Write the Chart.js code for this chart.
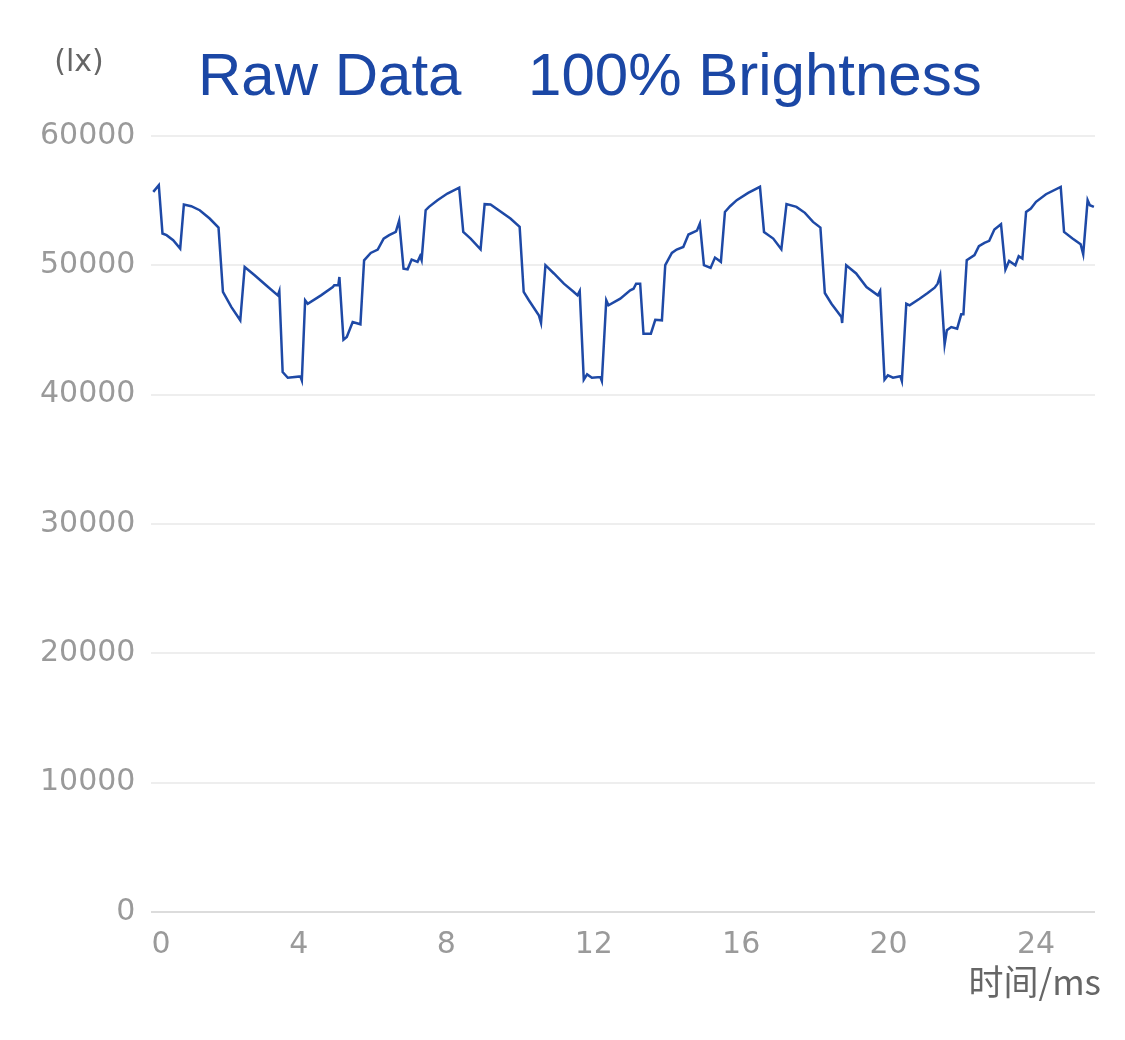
<!DOCTYPE html>
<html>
<head>
<meta charset="utf-8">
<script src="https://cdn.jsdelivr.net/npm/chart.js@4.4.1/dist/chart.umd.min.js"></script>
<style>
    body { margin: 0; background: #ffffff; }
    #wrap { width: 1125px; height: 1040px; }
</style>
</head>
<body>
<div id="wrap"><canvas id="myChart" width="1125" height="1040"></canvas></div>
<script>
// time in ms
let timeMs = [
    0.05, 0.2, 0.3, 0.41, 0.59, 0.78, 0.88, 1.08, 1.31, 1.58, 1.82, 1.94, 2.17, 2.41, 2.53, 2.8,
    3.11, 3.43, 3.47, 3.56, 3.7, 4.04, 4.08, 4.17, 4.24, 4.6, 4.92, 4.96, 5.07, 5.1, 5.21, 5.3,
    5.46, 5.67, 5.77, 5.95, 6.14, 6.3, 6.45, 6.63, 6.72, 6.84, 6.95, 7.06, 7.22, 7.29, 7.33, 7.44,
    7.53, 7.76, 8.03, 8.35, 8.46, 8.66, 8.93, 9.04, 9.2, 9.74, 9.99, 10.1, 10.24, 10.51, 10.57, 10.69,
    10.92, 11.19, 11.46, 11.56, 11.62, 11.73, 11.82, 11.95, 12.18, 12.22, 12.34, 12.4, 12.72, 12.99, 13.08, 13.15,
    13.26, 13.35, 13.55, 13.67, 13.85, 13.94, 14.12, 14.25, 14.43, 14.57, 14.8, 14.88, 14.99, 15.17, 15.29, 15.45,
    15.56, 15.7, 15.88, 16.19, 16.51, 16.62, 16.87, 17.09, 17.23, 17.5, 17.73, 17.95, 18.15, 18.27, 18.45, 18.72,
    18.74, 18.85, 19.12, 19.4, 19.71, 19.77, 19.89, 19.98, 20.12, 20.32, 20.36, 20.48, 20.57, 20.84, 21.06, 21.25,
    21.33, 21.4, 21.52, 21.58, 21.7, 21.86, 21.97, 22.03, 22.12, 22.33, 22.45, 22.6, 22.73, 22.87, 23.05, 23.17,
    23.27, 23.44, 23.53, 23.63, 23.73, 23.86, 24.0, 24.27, 24.67, 24.76, 24.99, 25.21, 25.28, 25.4, 25.46, 25.57
];
// illuminance in lx
let lux = [
    55680, 56200, 52460, 52330, 51940, 51300, 54700, 54570, 54260, 53620, 52920, 47940, 46770, 45750, 49870, 49230,
    48460, 47680, 48010, 41750, 41310, 41410, 41100, 47300, 47030, 47680, 48320, 48460, 48460, 49100, 44250, 44460,
    45620, 45440, 50390, 50960, 51220, 52070, 52330, 52580, 53440, 49740, 49690, 50450, 50270, 50710, 50400, 54260,
    54520, 55040, 55550, 56010, 52580, 52070, 51240, 54730, 54700, 53620, 52970, 47940, 47300, 46140, 45540, 50010,
    49370, 48580, 47940, 47680, 48010, 41160, 41570, 41310, 41360, 41060, 47300, 46910, 47420, 48070, 48190, 48580,
    48580, 44710, 44710, 45790, 45750, 50010, 50960, 51220, 51420, 52380, 52680, 53230, 50010, 49800, 50600, 50270,
    54130, 54570, 55040, 55600, 56070, 52580, 52070, 51240, 54730, 54520, 54060, 53360, 52920, 47860, 47030, 46000,
    45540, 50010, 49370, 48320, 47680, 48010, 41160, 41490, 41310, 41420, 41060, 47030, 46910, 47420, 47860, 48270,
    48580, 49230, 43890, 44980, 45230, 45100, 46210, 46210, 50400, 50790, 51480, 51740, 51890, 52770, 53180, 49670,
    50340, 50010, 50710, 50520, 54130, 54390, 54910, 55500, 56070, 52580, 52070, 51630, 50860, 55040, 54650, 54520
];

let titleText = "Raw Data    100% Brightness";
let yUnit = "(lx)";
let xUnit = "时间/ms";

let points = timeMs.map((t, i) => {
    return { x: t, y: lux[i] };
});

// draws the title and the two unit labels
const textPlugin = {
    id: "texts",
    afterDraw(chart) {
        const ctx = chart.ctx;
        ctx.save();
        ctx.fillStyle = "#1b47a5";
        ctx.font = "60px 'Liberation Sans', Arial, sans-serif";
        ctx.textAlign = "left";
        ctx.textBaseline = "alphabetic";
        ctx.fillText(titleText, 198, 95);

        ctx.fillStyle = "#666666";
        ctx.font = "30px 'DejaVu Sans', sans-serif";
        ctx.textAlign = "center";
        ctx.textBaseline = "middle";
        ctx.fillText(yUnit, 79, 63);

        ctx.font = "35px 'Noto Sans CJK SC', 'DejaVu Sans', sans-serif";
        ctx.textAlign = "right";
        ctx.fillText(xUnit, 1101, 982);
        ctx.restore();
    }
};

new Chart("myChart", {
    type: "line",
    data: {
        datasets: [{
            data: points,
            borderColor: "#1e49a6",
            borderWidth: 2.5,
            pointRadius: 0,
            tension: 0,
            fill: false
        }]
    },
    options: {
        responsive: false,
        animation: false,
        layout: {
            padding: { top: 136, right: 30, bottom: 70, left: 24 }
        },
        plugins: {
            legend: { display: false },
            title: { display: false },
            tooltip: { enabled: false }
        },
        scales: {
            x: {
                type: "linear",
                min: 0,
                max: 25.6,
                grid: { display: false },
                border: { display: false },
                ticks: {
                    stepSize: 4,
                    includeBounds: false,
                    padding: 7,
                    color: "#9a9a9a",
                    font: { family: "'DejaVu Sans', sans-serif", size: 30 },
                    maxRotation: 0,
                    callback: function (v) {
                        // first label sits a little right of the origin
                        return v === 0 ? "  0" : String(v);
                    }
                }
            },
            y: {
                min: 0,
                max: 60000,
                grid: {
                    drawTicks: false,
                    color: function (c) {
                        return c.tick && c.tick.value === 0 ? "#dcdcdc" : "#eeeeee";
                    },
                    lineWidth: 2
                },
                border: { display: false },
                ticks: {
                    stepSize: 10000,
                    padding: 16,
                    color: "#9a9a9a",
                    font: { family: "'DejaVu Sans', sans-serif", size: 30 },
                    callback: function (v) {
                        return String(v);
                    }
                }
            }
        }
    },
    plugins: [textPlugin]
});
</script>
</body>
</html>
